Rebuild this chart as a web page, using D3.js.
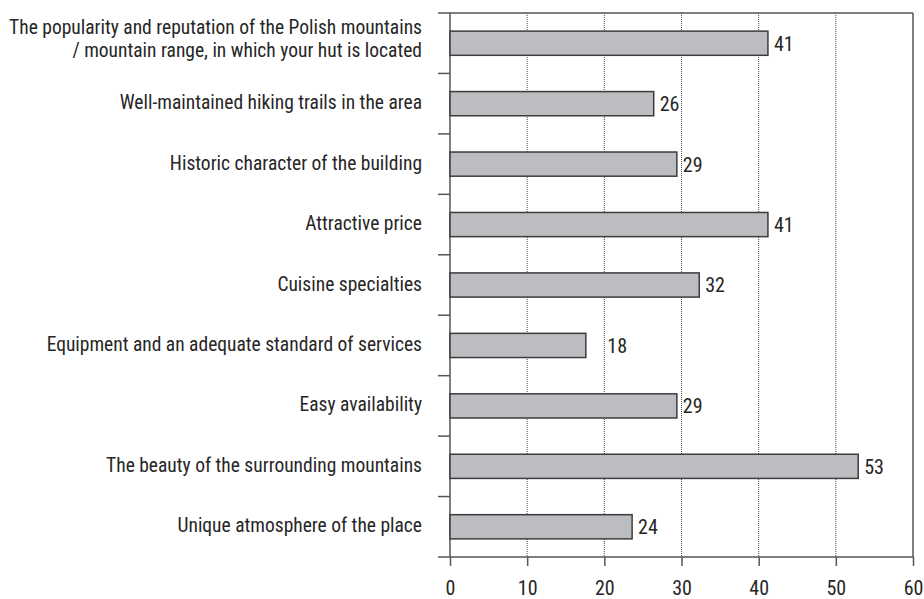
<!DOCTYPE html>
<html>
<head>
<meta charset="utf-8">
<script src="https://cdn.jsdelivr.net/npm/d3@7"></script>
<style>
    body { margin: 0; background: #fff; }
    svg { display: block; }
    text { font-family: "Liberation Sans Narrow", "Roboto Condensed", "Arial Narrow", sans-serif; fill: #262626; }
</style>
</head>
<body>
<svg id="chart"></svg>
<script>
const width = 924
const height = 599

const categories = [
    'The popularity and reputation of the Polish mountains|/ mountain range, in which your hut is located',
    'Well-maintained hiking trails in the area',
    'Historic character of the building',
    'Attractive price',
    'Cuisine specialties',
    'Equipment and an adequate standard of services',
    'Easy availability',
    'The beauty of the surrounding mountains',
    'Unique atmosphere of the place'
]
// bar lengths as measured, labels as printed
const values = [41.2, 26.4, 29.4, 41.2, 32.3, 17.6, 29.4, 52.9, 23.6]
const labels = ['41', '26', '29', '41', '32', '18', '29', '53', '24']
const xTicks = [0, 10, 20, 30, 40, 50, 60]

const margin = {top: 13, right: 11, bottom: 42, left: 450}

const svg = d3.select('#chart')
    .attr('width', width)
    .attr('height', height)

const x = d3.scaleLinear()
    .domain([0, 60])
    .range([margin.left, width - margin.right])

const y = d3.scaleBand()
    .domain(d3.range(categories.length))
    .range([margin.top, height - margin.bottom])
    .paddingInner(0.6)
    .paddingOuter(0.3)

const step = y.step()
const lineCol = '#555'

// dotted gridlines
svg.append('g')
    .selectAll('line')
    .data(xTicks.slice(1, -1))
    .join('line')
    .attr('x1', d => x(d))
    .attr('x2', d => x(d))
    .attr('y1', margin.top)
    .attr('y2', height - margin.bottom)
    .attr('stroke', '#444')
    .attr('stroke-width', 1)
    .attr('stroke-dasharray', '1,1')

// frame: top and right
svg.append('line')
    .attr('x1', margin.left - 12).attr('x2', x(60))
    .attr('y1', margin.top).attr('y2', margin.top)
    .attr('stroke', lineCol).attr('stroke-width', 1.5)
svg.append('line')
    .attr('x1', x(60)).attr('x2', x(60))
    .attr('y1', margin.top).attr('y2', height - margin.bottom)
    .attr('stroke', lineCol).attr('stroke-width', 1.5)

// bottom axis
const xAxis = svg.append('g')
    .attr('transform', `translate(0, ${height - margin.bottom})`)
    .call(d3.axisBottom(x).tickValues(xTicks).tickSize(9).tickSizeOuter(0).tickPadding(15))

xAxis.select('.domain')
    .attr('d', `M${margin.left - 12},0H${x(60)}`)
    .attr('stroke', lineCol).attr('stroke-width', 1.5)
xAxis.selectAll('.tick line').attr('stroke', lineCol).attr('stroke-width', 1.5)
xAxis.selectAll('.tick text')
    .style('font-size', '20px')
    .attr('fill', '#262626')

// left axis line and category boundary ticks
svg.append('line')
    .attr('x1', margin.left).attr('x2', margin.left)
    .attr('y1', margin.top).attr('y2', height - margin.bottom)
    .attr('stroke', lineCol).attr('stroke-width', 1.5)

svg.append('g')
    .selectAll('line')
    .data(d3.range(1, categories.length))
    .join('line')
    .attr('x1', margin.left - 12)
    .attr('x2', margin.left)
    .attr('y1', i => margin.top + i * step)
    .attr('y2', i => margin.top + i * step)
    .attr('stroke', lineCol).attr('stroke-width', 1.5)

// bars
svg.append('g')
    .selectAll('rect')
    .data(values)
    .join('rect')
    .attr('x', x(0))
    .attr('y', (d, i) => y(i))
    .attr('width', d => x(d) - x(0))
    .attr('height', y.bandwidth())
    .attr('fill', '#bcbdc1')
    .attr('stroke', '#3c3c3c')
    .attr('stroke-width', 1.5)

// value labels, pushed past a gridline if they would sit on it
const labelW = 18
function labelX(v) {
    let lx = x(v) + 6
    xTicks.forEach(t => {
        const gx = x(t)
        if (gx > lx - 1 && gx < lx + labelW) lx = gx + 3
    })
    return lx
}

svg.append('g')
    .selectAll('text')
    .data(values)
    .join('text')
    .attr('x', d => labelX(d))
    .attr('y', (d, i) => y(i) + y.bandwidth() / 2)
    .attr('dy', '0.37em')
    .style('font-size', '20px')
    .text((d, i) => labels[i])

// category labels
const catLabels = svg.append('g')
    .selectAll('text')
    .data(categories)
    .join('text')
    .attr('text-anchor', 'end')
    .style('font-size', '19.5px')
    .attr('transform', (d, i) => `translate(${margin.left - 28}, ${y(i) + y.bandwidth() / 2})`)

catLabels.each(function(d) {
    const lines = d.split('|')
    const lh = 22.5
    d3.select(this).selectAll('tspan')
        .data(lines)
        .join('tspan')
        .attr('x', 0)
        .attr('y', (l, j) => (j - (lines.length - 1) / 2) * lh + (lines.length > 1 ? 2.5 : 5.5))
        .text(l => l)
})
</script>
</body>
</html>
